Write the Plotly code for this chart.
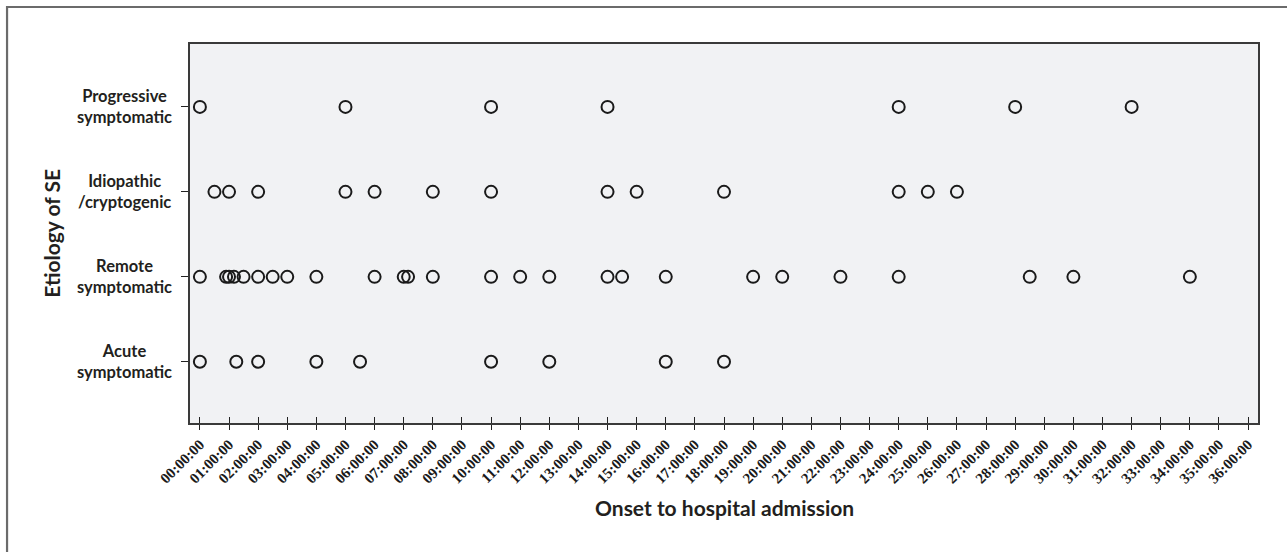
import plotly.graph_objects as go

# ---- data (hours from onset to hospital admission) ----
categories = ["Acute<br>symptomatic", "Remote<br>symptomatic",
              "Idiopathic<br>/cryptogenic", "Progressive<br>symptomatic"]
acute = [0, 1.25, 2, 4, 5.5, 10, 12, 16, 18]
remote = [0, 0.9, 1.0, 1.17, 1.5, 2, 2.5, 3, 4, 6, 7, 7.15, 8, 10, 11, 12,
          14, 14.5, 16, 19, 20, 22, 24, 28.5, 30, 34]
idiopathic = [0.5, 1, 2, 5, 6, 8, 10, 14, 15, 18, 24, 25, 26]
progressive = [0, 5, 10, 14, 24, 28, 32]
series = [acute, remote, idiopathic, progressive]

tick_hours = list(range(0, 37))
tick_labels = [f"{h:02d}:00:00" for h in tick_hours]

fig = go.Figure()
for i, vals in enumerate(series):
    fig.add_trace(go.Scatter(
        x=vals, y=[i] * len(vals), mode="markers",
        marker=dict(symbol="circle-open", size=12, color="#1a1a1a",
                    line=dict(width=2, color="#1a1a1a")),
        showlegend=False, hoverinfo="x"))

# dummy trace for the inside-tick overlay axis
fig.add_trace(go.Scatter(x=[None], y=[None], xaxis="x2", yaxis="y",
                         showlegend=False, hoverinfo="skip"))

xr = [-0.34, 36.34]
fig.update_layout(
    width=1287, height=552,
    margin=dict(l=190, r=29, t=44, b=129),
    paper_bgcolor="white",
    plot_bgcolor="#f1f2f4",
    xaxis=dict(range=xr, tickmode="array", tickvals=tick_hours,
               ticktext=tick_labels, tickangle=-45,
               ticks="outside", ticklen=5, tickwidth=1.2, tickcolor="#222",
               showgrid=False, zeroline=False,
               showline=True, linecolor="#3a3a3a", linewidth=1.6, mirror=True,
               tickfont=dict(family="Liberation Serif", size=15,
                             color="#1a1a1a", weight="bold")),
    xaxis2=dict(range=xr, overlaying="x", side="bottom", matches="x",
                tickmode="array", tickvals=tick_hours, showticklabels=False,
                ticks="inside", ticklen=6, tickwidth=1.2, tickcolor="#222",
                showgrid=False, zeroline=False, showline=False),
    yaxis=dict(range=[-0.72, 3.74], tickmode="array", tickvals=[0, 1, 2, 3],
               showticklabels=False, ticks="outside", ticklen=7,
               tickwidth=1.2, tickcolor="#222",
               showgrid=False, zeroline=False,
               showline=True, linecolor="#3a3a3a", linewidth=1.6, mirror=True),
)

# category labels (centered, two lines)
for i, lab in enumerate(categories):
    fig.add_annotation(text=lab, x=-0.0609, xref="paper", y=i, yref="y",
                       xanchor="center", yanchor="middle", align="center",
                       showarrow=False,
                       font=dict(family="Lato", size=16.5, color="#231f20",
                                 weight="bold"))

# axis titles
fig.add_annotation(text="Etiology of SE", x=-0.130, xref="paper", y=0.5,
                   yref="paper", textangle=-90, showarrow=False,
                   xanchor="center", yanchor="middle",
                   font=dict(family="Lato", size=21, color="#231f20",
                             weight="bold"))
fig.add_annotation(text="Onset to hospital admission", x=0.5, xref="paper",
                   y=-0.224, yref="paper", showarrow=False,
                   xanchor="center", yanchor="middle",
                   font=dict(family="Lato", size=21, color="#231f20",
                             weight="bold"))

# outer frame
fig.add_shape(type="rect", xref="paper", yref="paper",
              x0=-0.1713, x1=1.04, y0=-0.45, y1=1.0976,
              line=dict(color="#6b6b6b", width=2.2), layer="below")

fig.write_html("out.html",
               config={"displayModeBar": False},
               post_script="document.body.style.margin='0';"
                           "document.body.style.overflow='hidden';")
